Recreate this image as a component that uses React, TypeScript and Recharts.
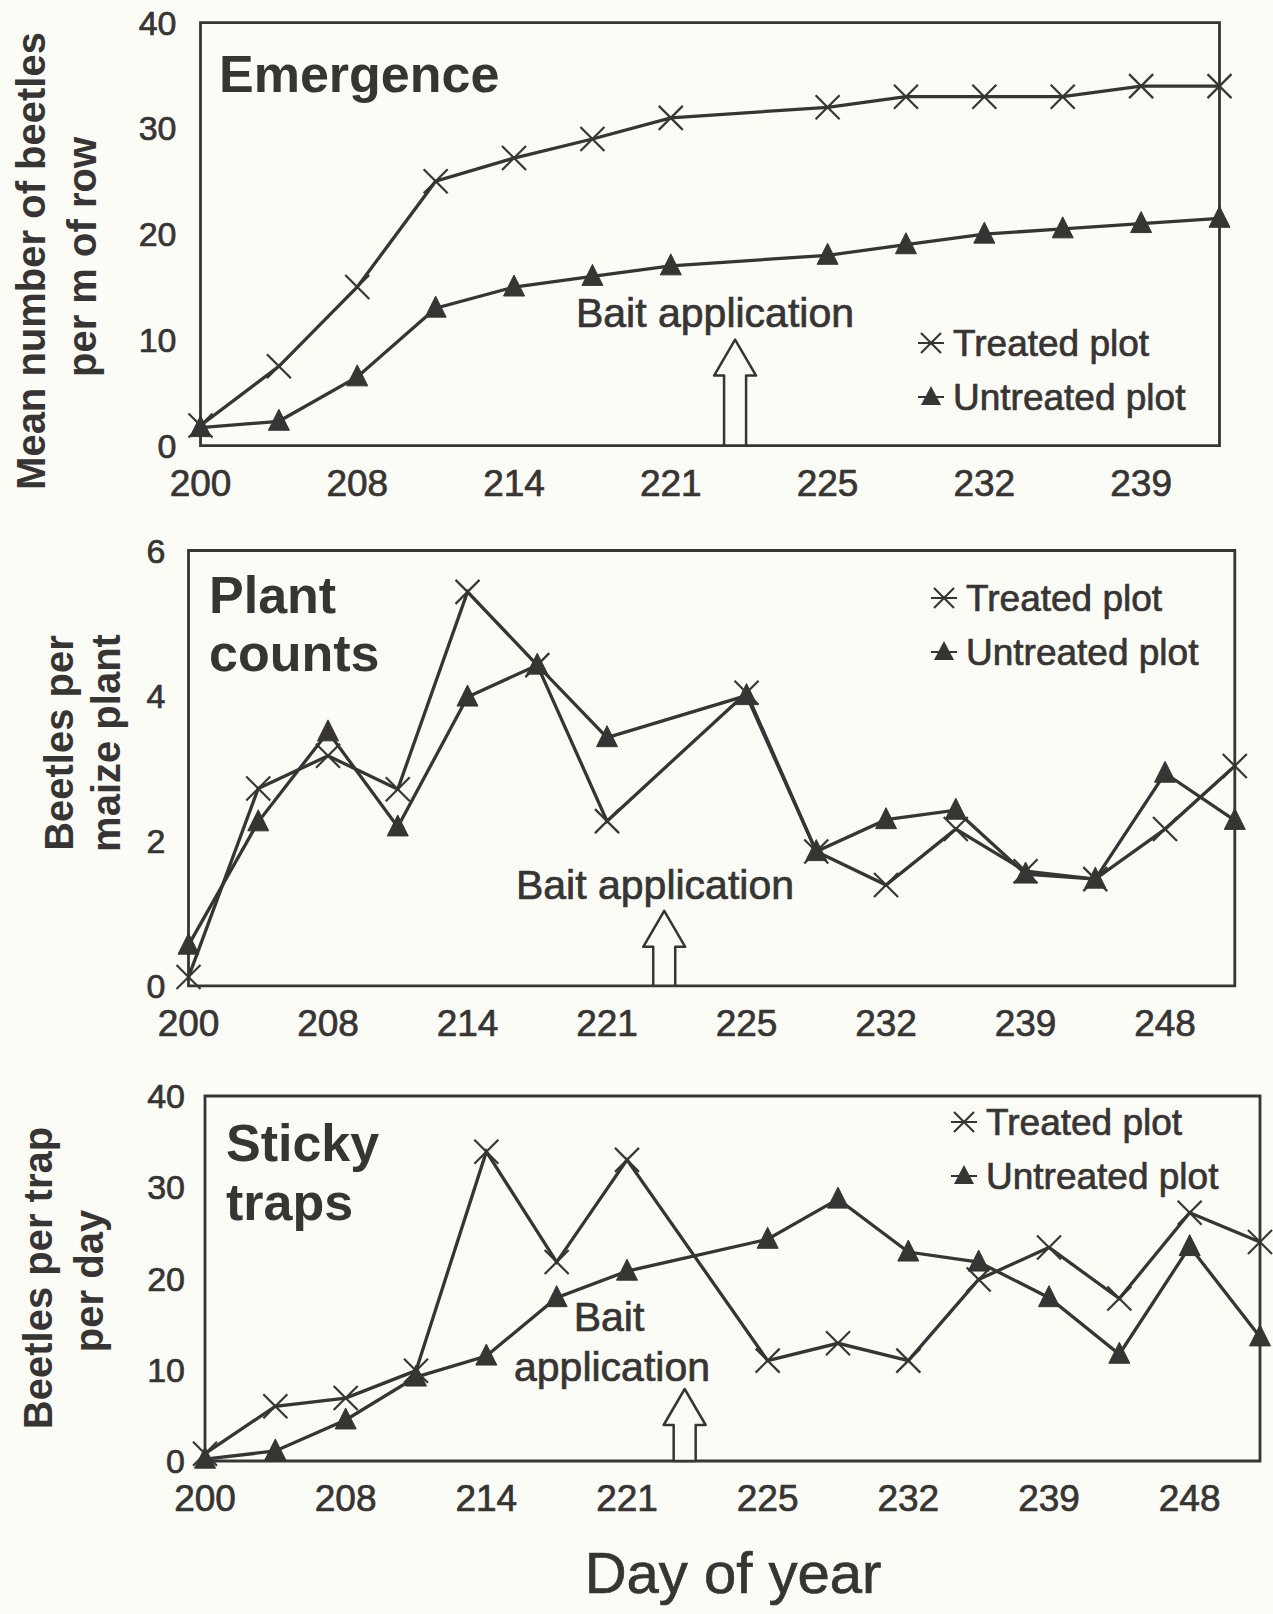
import React from 'react';
import { LineChart, Line, XAxis, YAxis, ReferenceArea, ReferenceDot } from 'recharts';

const INK = '#373434';
const PAPER = '#fcfcf6';
const FONT = '"Liberation Sans", Arial, Helvetica, sans-serif';

// Emergence (beetles per m of row), every other sample labelled on the axis
const emergenceDays = ['200', '208', '214', '221', '225', '232', '239'];
const emergenceTreated = [1.9, 7.5, 15, 25, 27.2, 29, 31, null, 32, 33, 33, 33, 34, 34];
const emergenceUntreated = [1.7, 2.3, 6.5, 13, 15, 16, 17, null, 18, 19, 20, 20.5, 21, 21.5];

// Plant counts (beetles per maize plant)
const plantDays = ['200', '208', '214', '221', '225', '232', '239', '248'];
const plantTreated = [0.12, 2.72, 3.17, 2.71, 5.43, 4.42, 2.27, null, 4.04, 1.85, 1.39, 2.16, 1.58, 1.47, 2.16, 3.03];
const plantUntreated = [0.56, 2.26, 3.5, 2.19, 3.98, 4.42, 3.42, null, 4.0, 1.85, 2.29, 2.42, 1.54, 1.47, 2.93, 2.28];

// Sticky traps (beetles per trap per day)
const stickyDays = ['200', '208', '214', '221', '225', '232', '239', '248'];
const stickyTreated = [0.8, 6.0, 6.9, 9.9, 33.9, 21.8, 33.0, null, 11.0, 12.9, 11.0, 19.9, 23.4, 17.8, 27.2, 24.0];
const stickyUntreated = [0.2, 1.1, 4.5, 9.2, 11.5, 17.9, 20.8, null, 24.3, 28.7, 22.9, 21.8, 17.9, 11.7, 23.5, 13.6];

// bait applied between sample 6 and 8
const BAIT_X = 6.82;

// scanned print: give the type a little extra weight
const inkText = { fill: INK, stroke: INK, strokeWidth: 0.7 };

const XDot = (props: any) => {
  const { cx, cy } = props;
  if (cx == null || cy == null || isNaN(cy)) return null;
  const s = 12;
  return (
    <g>
      <line x1={cx - s} y1={cy - s} x2={cx + s} y2={cy + s} stroke={INK} strokeWidth={2.2} />
      <line x1={cx - s} y1={cy + s} x2={cx + s} y2={cy - s} stroke={INK} strokeWidth={2.2} />
    </g>
  );
};

const TriDot = (props: any) => {
  const { cx, cy } = props;
  if (cx == null || cy == null || isNaN(cy)) return null;
  return <path d={`M${cx},${cy - 12} L${cx + 10.5},${cy + 9} L${cx - 10.5},${cy + 9} Z`} fill={INK} stroke={INK} strokeWidth={1} strokeLinejoin="round" />;
};

const Arrow = ({ cx, cy, h }: { cx: number; cy: number; h: number }) => {
  const head = 36;
  const d = `M${cx - 11},${cy} L${cx - 11},${cy - h + head} L${cx - 21},${cy - h + head} L${cx},${cy - h} L${cx + 21},${cy - h + head} L${cx + 11},${cy - h + head} L${cx + 11},${cy} Z`;
  return <path d={d} fill={PAPER} stroke={INK} strokeWidth={2.5} strokeLinejoin="round" />;
};

type PanelProps = {
  chartTop: number;
  box: { left: number; right: number; top: number; bottom: number };
  labels: string[];
  treated: (number | null)[];
  untreated: (number | null)[];
  yMax: number;
  yTicks: number[];
  yTickMargin: number;
  arrowH: number;
};

function Panel({ chartTop, box, labels, treated, untreated, yMax, yTicks, yTickMargin, arrowH }: PanelProps) {
  const data = treated.map((t, i) => ({ x: i, treated: t, untreated: untreated[i] }));
  const xMax = treated.length - 1;
  const xTicks = labels.map((_, i) => i * 2);
  const chartH = box.bottom - chartTop + 75;
  return (
    <div style={{ position: 'absolute', left: 0, top: chartTop }}>
      <LineChart
        width={1273}
        height={chartH}
        data={data}
        margin={{ top: box.top - chartTop, right: 1273 - box.right, left: 0, bottom: 0 }}
      >
        <XAxis
          dataKey="x"
          type="number"
          domain={[0, xMax]}
          ticks={xTicks}
          interval={0}
          tickFormatter={(v: number) => labels[v / 2]}
          axisLine={false}
          tickLine={false}
          tickSize={0}
          tickMargin={24}
          height={75}
          tick={{ ...inkText, fontSize: 37, fontFamily: FONT }}
        />
        <YAxis
          type="number"
          domain={[0, yMax]}
          ticks={yTicks}
          interval={0}
          axisLine={false}
          tickLine={false}
          tickSize={0}
          tickMargin={yTickMargin}
          width={box.left}
          tick={{ ...inkText, fontSize: 34, fontFamily: FONT }}
        />
        <ReferenceArea x1={0} x2={xMax} y1={0} y2={yMax} fill="none" stroke={INK} strokeWidth={2.8} ifOverflow="visible" />
        <Line
          type="linear"
          dataKey="treated"
          stroke={INK}
          strokeWidth={3.3}
          dot={<XDot />}
          activeDot={false}
          connectNulls
          isAnimationActive={false}
        />
        <Line
          type="linear"
          dataKey="untreated"
          stroke={INK}
          strokeWidth={3.3}
          dot={<TriDot />}
          activeDot={false}
          connectNulls
          isAnimationActive={false}
        />
        <ReferenceDot
          x={BAIT_X}
          y={0}
          ifOverflow="visible"
          shape={(p: any) => <Arrow cx={p.cx} cy={p.cy} h={arrowH} />}
        />
      </LineChart>
    </div>
  );
}

const LegendRows = ({ x, y }: { x: number; y: number }) => (
  <g>
    <line x1={x - 13} y1={y} x2={x + 13} y2={y} stroke={INK} strokeWidth={2} />
    <line x1={x - 10} y1={y - 10} x2={x + 10} y2={y + 10} stroke={INK} strokeWidth={2.2} />
    <line x1={x - 10} y1={y + 10} x2={x + 10} y2={y - 10} stroke={INK} strokeWidth={2.2} />
    <text x={x + 22} y={y + 13} fontSize={37} {...inkText}>Treated plot</text>
    <line x1={x - 13} y1={y + 54} x2={x + 13} y2={y + 54} stroke={INK} strokeWidth={2} />
    <path d={`M${x},${y + 43} L${x + 10},${y + 62} L${x - 10},${y + 62} Z`} fill={INK} />
    <text x={x + 22} y={y + 67} fontSize={37} {...inkText}>Untreated plot</text>
  </g>
);

const VTitle = ({ x, y, text }: { x: number; y: number; text: string }) => (
  <text
    x={x}
    y={y}
    transform={`rotate(-90 ${x} ${y})`}
    textAnchor="middle"
    dominantBaseline="central"
    fontSize={40}
    fontWeight="bold"
    fill={INK}
  >
    {text}
  </text>
);

export default function App() {
  return (
    <div style={{ position: 'absolute', left: 0, top: 0, width: 1273, height: 1614, background: PAPER, fontFamily: FONT }}>
      <Panel
        chartTop={0}
        box={{ left: 200.5, right: 1219.5, top: 22.7, bottom: 445.6 }}
        labels={emergenceDays}
        treated={emergenceTreated}
        untreated={emergenceUntreated}
        yMax={40}
        yTicks={[0, 10, 20, 30, 40]}
        yTickMargin={24}
        arrowH={106}
      />
      <Panel
        chartTop={530}
        box={{ left: 188.5, right: 1234.8, top: 550.5, bottom: 985.8 }}
        labels={plantDays}
        treated={plantTreated}
        untreated={plantUntreated}
        yMax={6}
        yTicks={[0, 2, 4, 6]}
        yTickMargin={23}
        arrowH={75}
      />
      <Panel
        chartTop={1075}
        box={{ left: 205, right: 1260, top: 1096, bottom: 1461 }}
        labels={stickyDays}
        treated={stickyTreated}
        untreated={stickyUntreated}
        yMax={40}
        yTicks={[0, 10, 20, 30, 40]}
        yTickMargin={20}
        arrowH={72}
      />
      <svg
        width={1273}
        height={1614}
        style={{ position: 'absolute', left: 0, top: 0, pointerEvents: 'none', fontFamily: FONT }}
      >
        {/* panel titles */}
        <text x={219} y={92} fontSize={52} fontWeight="bold" fill={INK}>Emergence</text>
        <text x={209} y={613} fontSize={52} fontWeight="bold" fill={INK}>Plant</text>
        <text x={209} y={671} fontSize={52} fontWeight="bold" fill={INK}>counts</text>
        <text x={226} y={1161} fontSize={52} fontWeight="bold" fill={INK}>Sticky</text>
        <text x={226} y={1220} fontSize={52} fontWeight="bold" fill={INK}>traps</text>

        {/* legends */}
        <LegendRows x={931} y={343} />
        <LegendRows x={944} y={598} />
        <LegendRows x={964} y={1122} />

        {/* bait application notes */}
        <text x={715} y={327} fontSize={41} textAnchor="middle" {...inkText}>Bait application</text>
        <text x={655} y={899} fontSize={41} textAnchor="middle" {...inkText}>Bait application</text>
        <text x={609} y={1331} fontSize={41} textAnchor="middle" {...inkText}>Bait</text>
        <text x={612} y={1381} fontSize={41} textAnchor="middle" {...inkText}>application</text>

        {/* y axis titles */}
        <VTitle x={31} y={261} text="Mean number of beetles" />
        <VTitle x={82} y={257} text="per m of row" />
        <VTitle x={59} y={743} text="Beetles per" />
        <VTitle x={106} y={743} text="maize plant" />
        <VTitle x={38} y={1278} text="Beetles per trap" />
        <VTitle x={89} y={1281} text="per day" />

        <text x={733} y={1593} fontSize={58} textAnchor="middle" {...inkText}>Day of year</text>
      </svg>
    </div>
  );
}
